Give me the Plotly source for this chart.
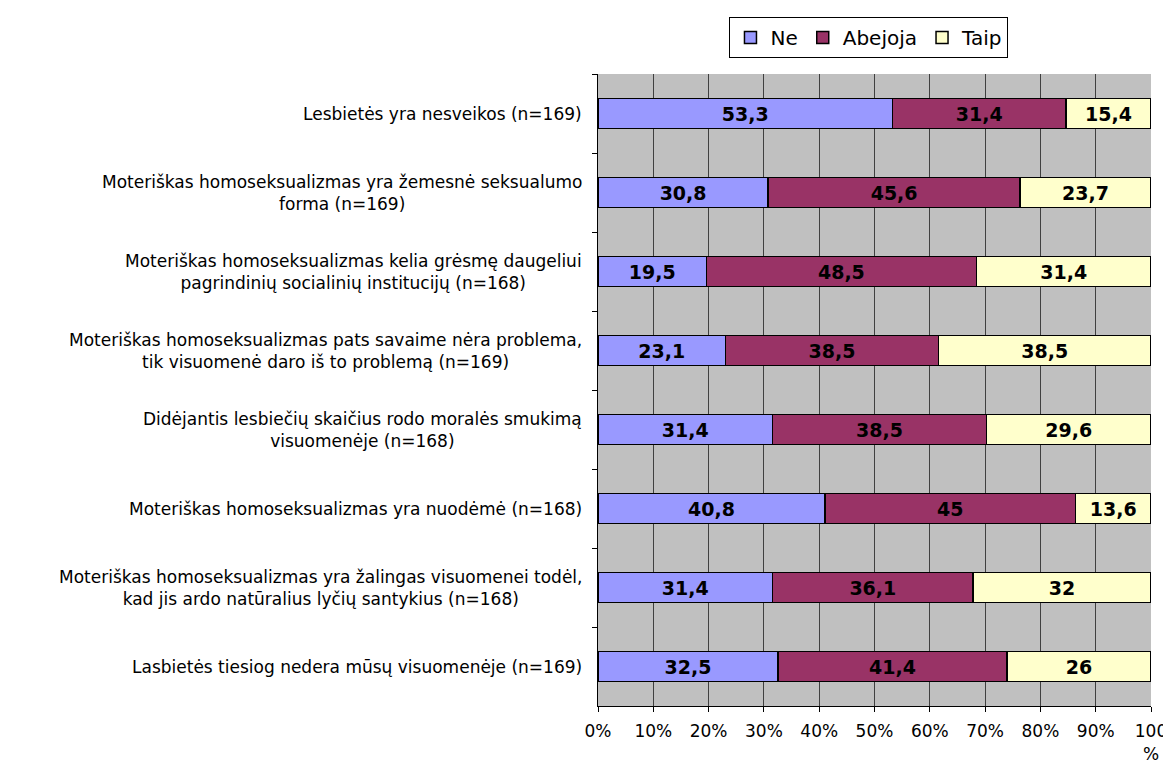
import plotly.graph_objects as go

# ----------------------------------------------------------
# Data
# ----------------------------------------------------------
statements = [
    "Lesbietės yra nesveikos (n=169)",
    "Moteriškas homoseksualizmas yra žemesnė seksualumo<br>forma (n=169)",
    "Moteriškas homoseksualizmas kelia grėsmę daugeliui<br>pagrindinių socialinių institucijų (n=168)",
    "Moteriškas homoseksualizmas pats savaime nėra problema,<br>tik visuomenė daro iš to problemą (n=169)",
    "Didėjantis lesbiečių skaičius rodo moralės smukimą<br>visuomenėje (n=168)",
    "Moteriškas homoseksualizmas yra nuodėmė (n=168)",
    "Moteriškas homoseksualizmas yra žalingas visuomenei todėl,<br>kad jis ardo natūralius lyčių santykius (n=168)",
    "Lasbietės tiesiog nedera mūsų visuomenėje (n=169)",
]
ne = [53.3, 30.8, 19.5, 23.1, 31.4, 40.8, 31.4, 32.5]
abejoja = [31.4, 45.6, 48.5, 38.5, 38.5, 45, 36.1, 41.4]
taip = [15.4, 23.7, 31.4, 38.5, 29.6, 13.6, 32, 26]

tick_vals = [0, 10, 20, 30, 40, 50, 60, 70, 80, 90, 100]
tick_text = ["0%", "10%", "20%", "30%", "40%", "50%", "60%", "70%", "80%", "90%", "100<br>%"]

FONT = "DejaVu Sans"
cats = [f"c{i}" for i in range(len(statements))]


def fmt(v):
    return f"{v:g}".replace(".", ",")


fig = go.Figure()
series = [("Ne", ne, "#9999FF"), ("Abejoja", abejoja, "#993366"), ("Taip", taip, "#FFFFCC")]
for name, vals, color in series:
    fig.add_trace(
        go.Bar(
            y=cats,
            x=vals,
            name=name,
            orientation="h",
            marker=dict(color=color, line=dict(color="#000000", width=1.5)),
            text=[fmt(v) for v in vals],
            textposition="inside",
            insidetextanchor="middle",
            textangle=0,
            textfont=dict(family=FONT, size=19, color="#000000", weight="bold"),
            hovertemplate="%{y}: %{text}<extra>" + name + "</extra>",
        )
    )

# Centred multi-line category labels
for c, label in zip(cats, statements):
    fig.add_annotation(
        x=0, xref="paper", y=c, yref="y",
        text=label, showarrow=False,
        xanchor="right", xshift=-14, align="center",
        font=dict(family=FONT, size=17, color="#000000"),
    )

# the page body adds an 8px offset, so margins are shifted to compensate
fig.update_layout(
    width=1171,
    height=762,
    margin=dict(l=590, r=28, t=66, b=64, autoexpand=False),
    barmode="stack",
    barnorm="percent",
    bargap=0.62,
    paper_bgcolor="#FFFFFF",
    plot_bgcolor="#C0C0C0",
    font=dict(family=FONT, size=17, color="#000000"),
    showlegend=True,
    legend=dict(
        orientation="h",
        x=0.49, xanchor="center",
        y=1.09, yanchor="top",
        traceorder="normal",
        bordercolor="#000000",
        borderwidth=1,
        bgcolor="#FFFFFF",
        font=dict(family=FONT, size=20),
        itemwidth=30,
    ),
    xaxis=dict(
        range=[0, 100],
        tickvals=tick_vals,
        ticktext=tick_text,
        showgrid=True,
        gridcolor="#404040",
        gridwidth=1,
        showline=True,
        linecolor="#000000",
        linewidth=1,
        ticks="outside",
        ticklen=5,
        tickcolor="#000000",
        ticklabelstandoff=5,
        zeroline=False,
        automargin=False,
        tickfont=dict(family=FONT, size=17),
    ),
    yaxis=dict(
        categoryorder="array",
        categoryarray=cats,
        autorange="reversed",
        showticklabels=False,
        showgrid=False,
        showline=True,
        linecolor="#000000",
        linewidth=1,
        ticks="outside",
        ticklen=5,
        tickcolor="#000000",
        tickson="boundaries",
        zeroline=False,
        automargin=False,
    ),
)

fig.write_html("out.html")
